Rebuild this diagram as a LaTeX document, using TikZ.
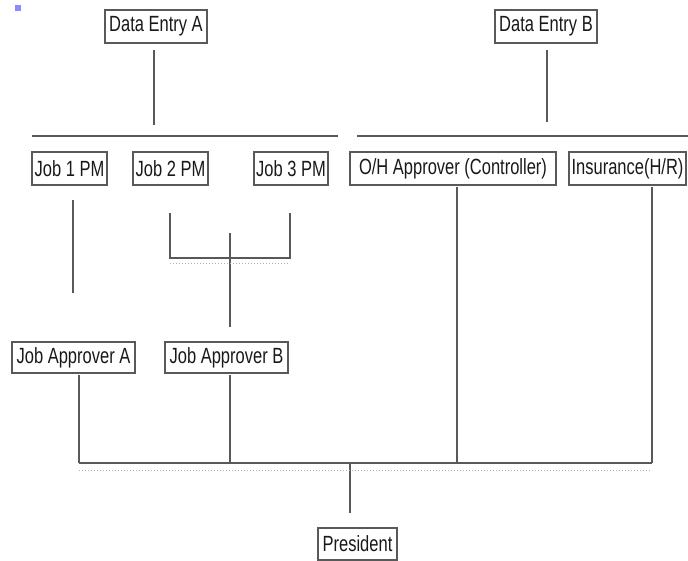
\documentclass[tikz,border=0pt]{standalone}
\usepackage{fontspec}
\newfontfamily\cond[FakeStretch=0.75]{Liberation Sans}
\begin{document}
\begin{tikzpicture}[x=1pt,y=-1pt,
  box/.style={draw=black!65,line width=1.6pt,inner sep=0pt,minimum height=33pt,
    font=\cond\fontsize{22}{22}\selectfont,text=black!90},
  conn/.style={draw=black!65,line width=1.3pt},
  ghost/.style={draw=black!30,line width=1pt,dotted}]
\useasboundingbox (0,0) rectangle (688,561);
\fill[blue!45] (15,5) rectangle (21,11);
% nodes
\node[box,minimum width=102pt] (deA) at (156,26.5) {Data Entry A};
\node[box,minimum width=102pt] (deB) at (546,26.5) {Data Entry B};
\node[box,minimum width=75pt] (j1) at (69.5,168.5) {Job 1 PM};
\node[box,minimum width=75pt] (j2) at (170.5,168.5) {Job 2 PM};
\node[box,minimum width=74pt] (j3) at (291,168.5) {Job 3 PM};
\node[box,minimum width=206pt] (oh) at (453,168.5) {O/H Approver (Controller)};
\node[box,minimum width=117pt] (ins) at (627.5,168.5) {Insurance(H/R)};
\node[box,minimum width=123pt,minimum height=31pt] (jaA) at (73.5,357.5) {Job Approver A};
\node[box,minimum width=123pt,minimum height=31pt] (jaB) at (226.5,357.5) {Job Approver B};
\node[box,minimum width=79pt,minimum height=32pt] (pres) at (357.5,544) {President};
% coordinates
\coordinate (a1) at (154,50);  \coordinate (a2) at (154,125);
\coordinate (b1) at (547,50);  \coordinate (b2) at (547,122);
\coordinate (hl1) at (32,136); \coordinate (hl2) at (338,136);
\coordinate (hr1) at (357,136); \coordinate (hr2) at (688,136);
\coordinate (p1a) at (73,200); \coordinate (p1b) at (73,293);
\coordinate (br1) at (170,213); \coordinate (br2) at (170,258);
\coordinate (br3) at (290,258); \coordinate (br4) at (290,213);
\coordinate (bm1) at (230,233); \coordinate (bm2) at (230,327);
\coordinate (qa) at (79,375); \coordinate (qb) at (230,375);
\coordinate (qo) at (457,187); \coordinate (qi) at (652,187);
\coordinate (ba) at (79,463); \coordinate (bb) at (230,463);
\coordinate (bo) at (457,463); \coordinate (bi) at (652,463);
\coordinate (bp) at (350,463); \coordinate (pe) at (350,513);
% connectors
\draw[conn] (a1) -- (a2);
\draw[conn] (b1) -- (b2);
\draw[conn] (hl1) -- (hl2);
\draw[conn] (hr1) -- (hr2);
\draw[conn] (p1a) -- (p1b);
\draw[conn] (br1) -- (br2) -- (br3) -- (br4);
\draw[conn] (bm1) -- (bm2);
\draw[ghost] (170,264) -- (290,264);
\draw[conn] (qa) -- (ba);
\draw[conn] (qb) -- (bb);
\draw[conn] (qo) -- (bo);
\draw[conn] (qi) -- (bi);
\draw[conn] (ba) -- (bi);
\draw[conn] (bp) -- (pe);
\draw[ghost] (79,470) -- (652,470);
\end{tikzpicture}
\end{document}
